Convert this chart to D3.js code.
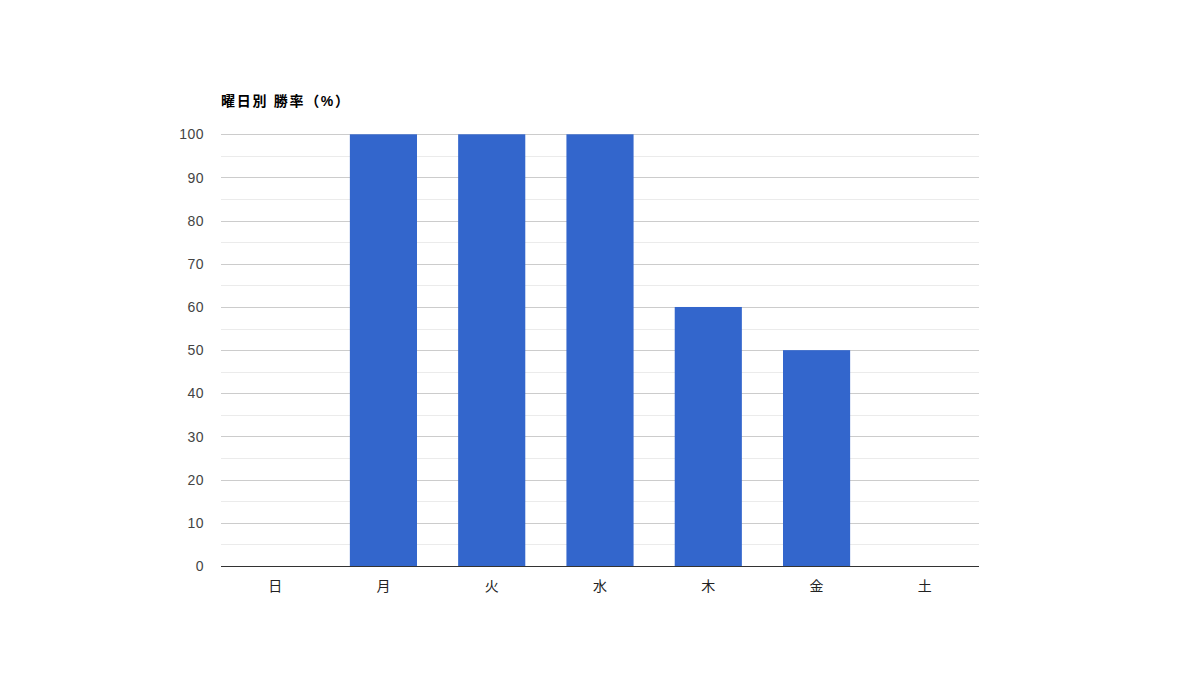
<!DOCTYPE html>
<html>
<head>
<meta charset="utf-8">
<script src="https://cdn.jsdelivr.net/npm/d3@7"></script>
<style>
  body { margin: 0; background: #fff; }
  text { font-family: "Liberation Sans", Arial, "Noto Sans CJK JP", sans-serif; }
</style>
</head>
<body>
<div id="chart"></div>
<script>
// 曜日別 勝率
const days = ["日", "月", "火", "水", "木", "金", "土"];
const winRates = [0, 100, 100, 100, 60, 50, 0];
const yTicks = [0, 10, 20, 30, 40, 50, 60, 70, 80, 90, 100];
const yMinorTicks = [5, 15, 25, 35, 45, 55, 65, 75, 85, 95];

const width = 1200, height = 700;
const plotLeft = 221, plotRight = 979, plotTop = 134.3, plotBottom = 566;

const svg = d3.select("#chart").append("svg")
  .attr("width", width)
  .attr("height", height);

const x = d3.scaleBand()
  .domain(days)
  .range([plotLeft, plotRight])
  .paddingInner(0.38)
  .paddingOuter(0.19);

const y = d3.scaleLinear()
  .domain([0, 100])
  .range([plotBottom, plotTop]);

// minor gridlines
svg.append("g")
  .selectAll("line")
  .data(yMinorTicks)
  .join("line")
  .attr("x1", plotLeft).attr("x2", plotRight)
  .attr("y1", d => Math.round(y(d)) + 0.5)
  .attr("y2", d => Math.round(y(d)) + 0.5)
  .attr("stroke", "#ebebeb");

// major gridlines
svg.append("g")
  .selectAll("line")
  .data(yTicks.filter(d => d > 0))
  .join("line")
  .attr("x1", plotLeft).attr("x2", plotRight)
  .attr("y1", d => Math.round(y(d)) + 0.5)
  .attr("y2", d => Math.round(y(d)) + 0.5)
  .attr("stroke", "#cccccc");

// y tick labels
svg.append("g")
  .selectAll("text")
  .data(yTicks)
  .join("text")
  .attr("x", 204)
  .attr("y", d => y(d))
  .attr("dy", "0.36em")
  .attr("text-anchor", "end")
  .attr("fill", "#444")
  .style("font-size", "14px")
  .style("letter-spacing", "0.5px")
  .text(d => d);

// bars
svg.append("g")
  .selectAll("rect")
  .data(winRates)
  .join("rect")
  .attr("x", (d, i) => x(days[i]))
  .attr("y", d => y(d))
  .attr("width", x.bandwidth())
  .attr("height", d => y(0) - y(d))
  .attr("fill", "#3366cc");

// baseline
svg.append("line")
  .attr("x1", plotLeft).attr("x2", plotRight)
  .attr("y1", plotBottom + 0.5).attr("y2", plotBottom + 0.5)
  .attr("stroke", "#333");

// x labels
svg.append("g")
  .selectAll("text")
  .data(days)
  .join("text")
  .attr("x", d => x(d) + x.bandwidth() / 2)
  .attr("y", 591)
  .attr("text-anchor", "middle")
  .attr("fill", "#222")
  .style("font-size", "14px")
  .text(d => d);

// title
svg.append("text")
  .attr("x", plotLeft)
  .attr("y", 106)
  .attr("fill", "#000")
  .attr("textLength", 128)
  .attr("lengthAdjust", "spacing")
  .style("font-size", "14px")
  .style("font-weight", "bold")
  .text("曜日別 勝率（%）");
</script>
</body>
</html>
